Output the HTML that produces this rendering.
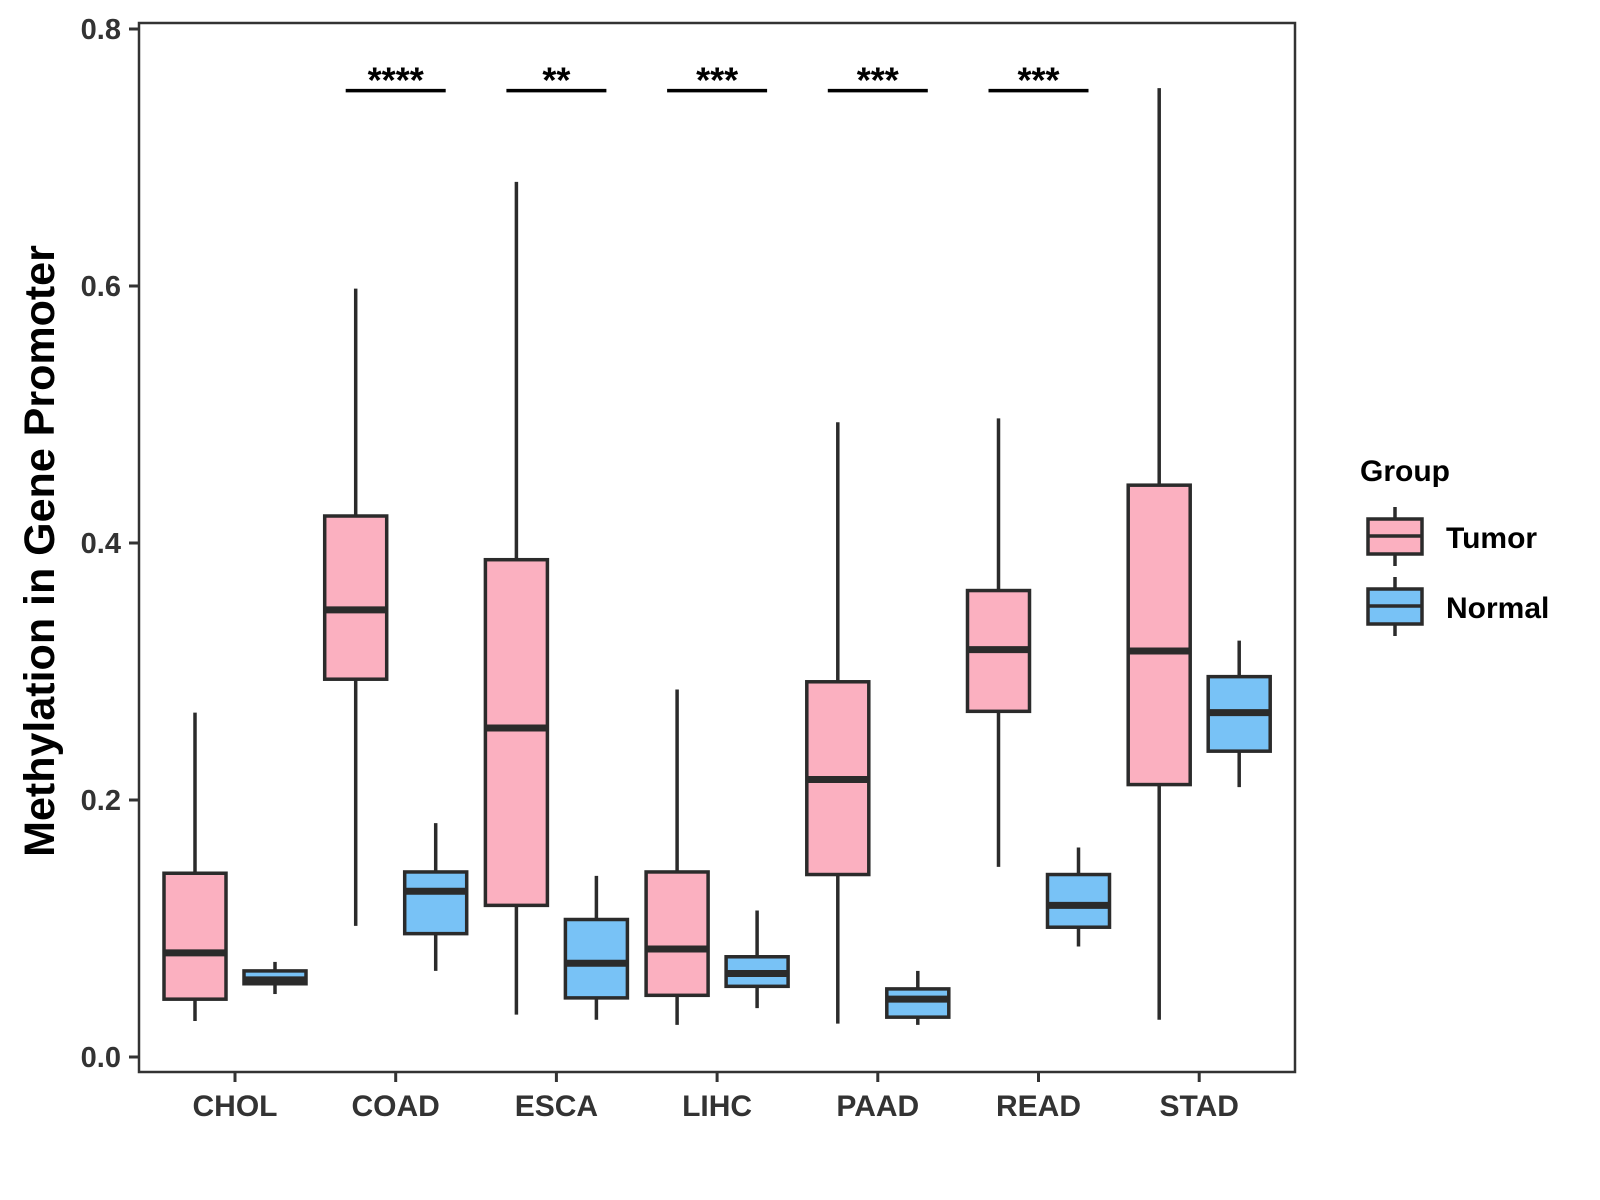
<!DOCTYPE html>
<html><head><meta charset="utf-8"><style>
body{margin:0;background:#fff}
svg{display:block;font-family:"Liberation Sans",sans-serif;font-weight:bold}
</style></head><body>
<svg id="chart" width="1600" height="1200">
<rect x="139" y="23" width="1156" height="1049" fill="none" stroke="#333" stroke-width="2.5"/>
<g id="g"></g>
<text transform="translate(54,551) rotate(-90)" text-anchor="middle" font-size="43" fill="#000">Methylation in Gene Promoter</text>
<g transform="translate(-7,-3)">
<text x="1367" y="484" font-size="30" fill="#000">Group</text>
<g>
<line x1="1402" y1="510" x2="1402" y2="569" stroke="#2b2b2b" stroke-width="3.5"/>
<rect x="1375" y="522" width="54" height="35" fill="#fbb0c0" stroke="#2b2b2b" stroke-width="3.5"/>
<line x1="1375" y1="539" x2="1429" y2="539" stroke="#2b2b2b" stroke-width="3.5"/>
<text x="1453" y="551" font-size="30" fill="#000">Tumor</text></g>
<g>
<line x1="1402" y1="580" x2="1402" y2="639" stroke="#2b2b2b" stroke-width="3.5"/>
<rect x="1375" y="592" width="54" height="35" fill="#78c2f6" stroke="#2b2b2b" stroke-width="3.5"/>
<line x1="1375" y1="609" x2="1429" y2="609" stroke="#2b2b2b" stroke-width="3.5"/>
<text x="1453" y="621" font-size="30" fill="#000">Normal</text></g>
</g>
</svg>
<script>
const categories=["CHOL","COAD","ESCA","LIHC","PAAD","READ","STAD"];
const tumorStats=[[0.028,0.045,0.081,0.143,0.268],[0.102,0.294,0.348,0.421,0.598],[0.033,0.118,0.256,0.387,0.681],[0.025,0.048,0.084,0.144,0.286],[0.026,0.142,0.216,0.292,0.494],[0.148,0.269,0.317,0.363,0.497],[0.029,0.212,0.316,0.445,0.754]];
const normalStats=[[0.049,0.057,0.06,0.067,0.074],[0.067,0.096,0.129,0.144,0.182],[0.029,0.046,0.073,0.107,0.141],[0.038,0.055,0.065,0.078,0.114],[0.025,0.031,0.045,0.053,0.067],[0.086,0.101,0.118,0.142,0.163],[0.21,0.238,0.268,0.296,0.324]];
const signif=["","****","**","***","***","***",""];
const yTicks=[0,0.2,0.4,0.6,0.8];
const yTickLabels=["0.0","0.2","0.4","0.6","0.8"];
const sigLevel=0.752;
const NS="http://www.w3.org/2000/svg";
const g=document.getElementById('g');
const y=v=>1057-v*1285;
const x=i=>235+i*160.7;
function mk(t,a,p){const e=document.createElementNS(NS,t);for(const k in a)e.setAttribute(k,a[k]);(p||g).appendChild(e);return e;}
yTicks.forEach((v,i)=>{
 const t=mk('line',{x1:129,x2:139,y1:y(v),y2:y(v),stroke:'#333','stroke-width':3});
 
 
 const l=mk('text',{x:121,y:y(v)+10,'text-anchor':'end','font-size':29,fill:'#333'});
 l.textContent=yTickLabels[i];
 
 
});
function box(cx,s,fill,name){
 const grp=mk('g',{});
 
 
 const w=62;
 mk('line',{x1:cx,x2:cx,y1:y(s[0]),y2:y(s[4]),stroke:'#2b2b2b','stroke-width':3.5},grp);
 mk('rect',{x:cx-w/2,y:y(s[3]),width:w,height:y(s[1])-y(s[3]),fill:fill,stroke:'#2b2b2b','stroke-width':3.5},grp);
 mk('line',{x1:cx-w/2,x2:cx+w/2,y1:y(s[2]),y2:y(s[2]),stroke:'#2b2b2b','stroke-width':7},grp);
}
categories.forEach((c,i)=>{
 const cx=x(i);
 const t=mk('line',{x1:cx,x2:cx,y1:1072,y2:1082,stroke:'#333','stroke-width':3});
 
 
 const l=mk('text',{x:cx,y:1116,'text-anchor':'middle','font-size':30,fill:'#333'});
 l.textContent=c;
 
 
 box(cx-40,tumorStats[i],'#fbb0c0','box-tumor-'+c.toLowerCase());
 box(cx+40,normalStats[i],'#78c2f6','box-normal-'+c.toLowerCase());
 if(signif[i]){
  const b=mk('line',{x1:cx-50,x2:cx+50,y1:y(sigLevel),y2:y(sigLevel),stroke:'#000','stroke-width':3.5});
  
  
  const s=mk('text',{x:cx,y:y(sigLevel)+2,'text-anchor':'middle','font-size':36,fill:'#000'});
  s.textContent=signif[i];
  
  
 }
});
</script>
</body></html>
